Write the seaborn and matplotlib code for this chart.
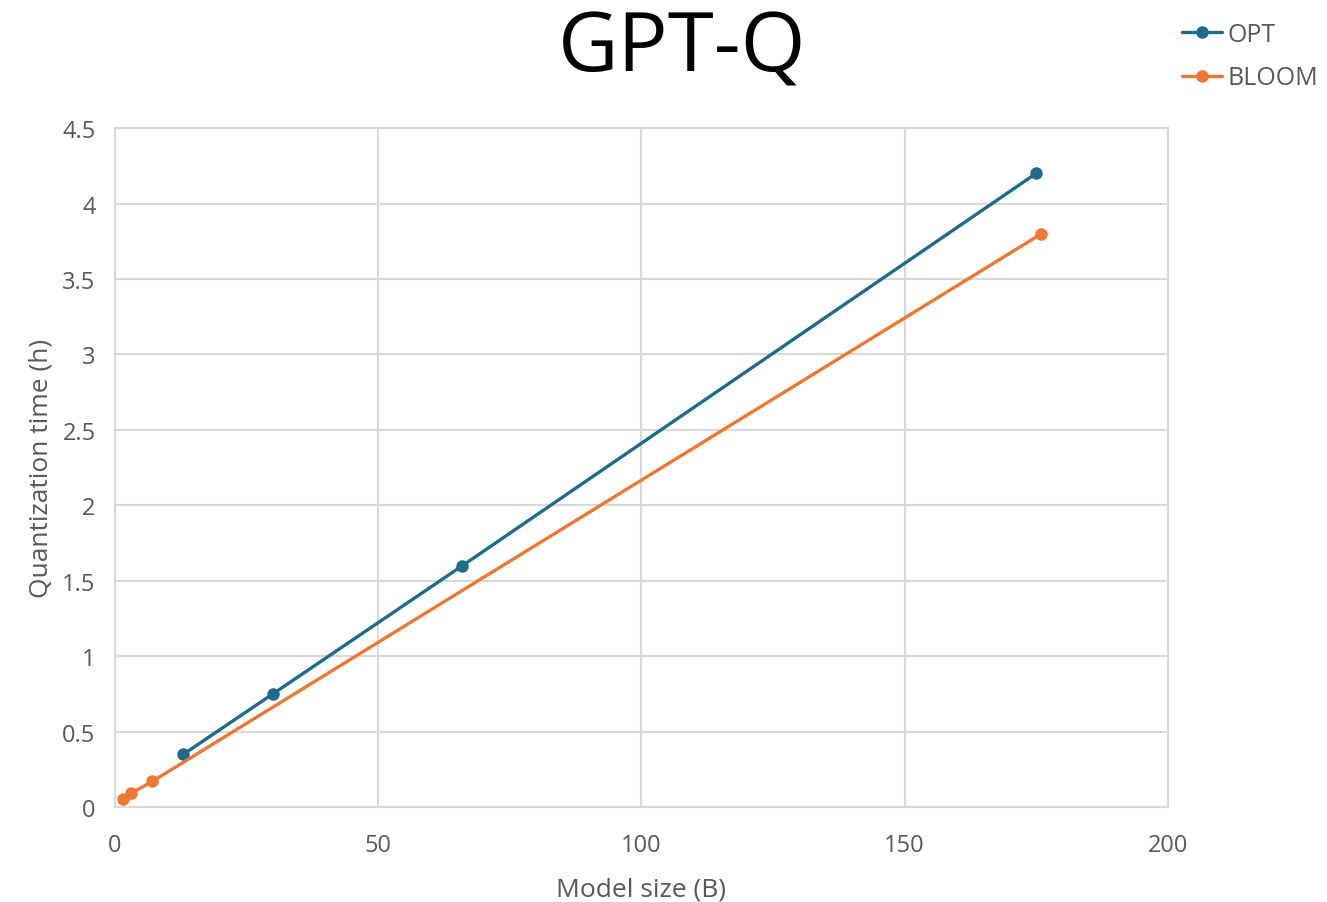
import pandas as pd
import matplotlib
matplotlib.use("Agg")
import matplotlib.pyplot as plt
import seaborn as sns

# values
opt_size = [13, 30, 66, 175]
opt_time = [0.35, 0.75, 1.6, 4.2]
bloom_size = [1.5, 3, 7.1, 176]
bloom_time = [0.05, 0.09, 0.17, 3.8]
series_names = ["OPT", "BLOOM"]
colors = {"OPT": "#1f6b8e", "BLOOM": "#ee7733"}

df = pd.concat([
    pd.DataFrame({"size": opt_size, "time": opt_time, "model": "OPT"}),
    pd.DataFrame({"size": bloom_size, "time": bloom_time, "model": "BLOOM"}),
], ignore_index=True)

sns.set_style("white")
plt.rcParams["font.family"] = ["Open Sans", "DejaVu Sans"]

fig = plt.figure(figsize=(13.27, 9.03), dpi=100)
ax = fig.add_axes([0.0867, 0.1052, 0.7933, 0.7518])

sns.lineplot(data=df, x="size", y="time", hue="model", hue_order=series_names,
             palette=colors, marker="o", markersize=9, markeredgewidth=0,
             linewidth=2.4, sort=False, ax=ax)

ax.set_xlim(0, 200)
ax.set_ylim(0, 4.5)
ax.set_xticks([0, 50, 100, 150, 200])
ax.set_yticks([0, 0.5, 1, 1.5, 2, 2.5, 3, 3.5, 4, 4.5])
ax.set_yticklabels(["0", "0.5", "1", "1.5", "2", "2.5", "3", "3.5", "4", "4.5"])
ax.grid(True, color="#d9d9d9", linewidth=1.5)
ax.set_axisbelow(True)
for sp in ax.spines.values():
    sp.set_color("#d9d9d9")
    sp.set_linewidth(1.5)
ax.tick_params(axis="both", length=0, labelsize=17, labelcolor="#595959")
ax.tick_params(axis="x", pad=19)
ax.tick_params(axis="y", pad=14)

ax.set_xlabel("Model size (B)", fontsize=19, color="#595959", labelpad=14)
ax.set_ylabel("Quantization time (h)", fontsize=19, color="#595959", labelpad=6)

fig.suptitle("GPT-Q", fontsize=60, x=0.514, y=0.99, color="black")

handles, labels = ax.get_legend_handles_labels()
ax.get_legend().remove()
fig.legend(handles, labels, loc="upper right", bbox_to_anchor=(1.01, 1.0),
           frameon=False, fontsize=18, labelcolor="#595959",
           handlelength=1.6, handletextpad=0.2, labelspacing=0.75)

fig.savefig("out.png", dpi=100)
